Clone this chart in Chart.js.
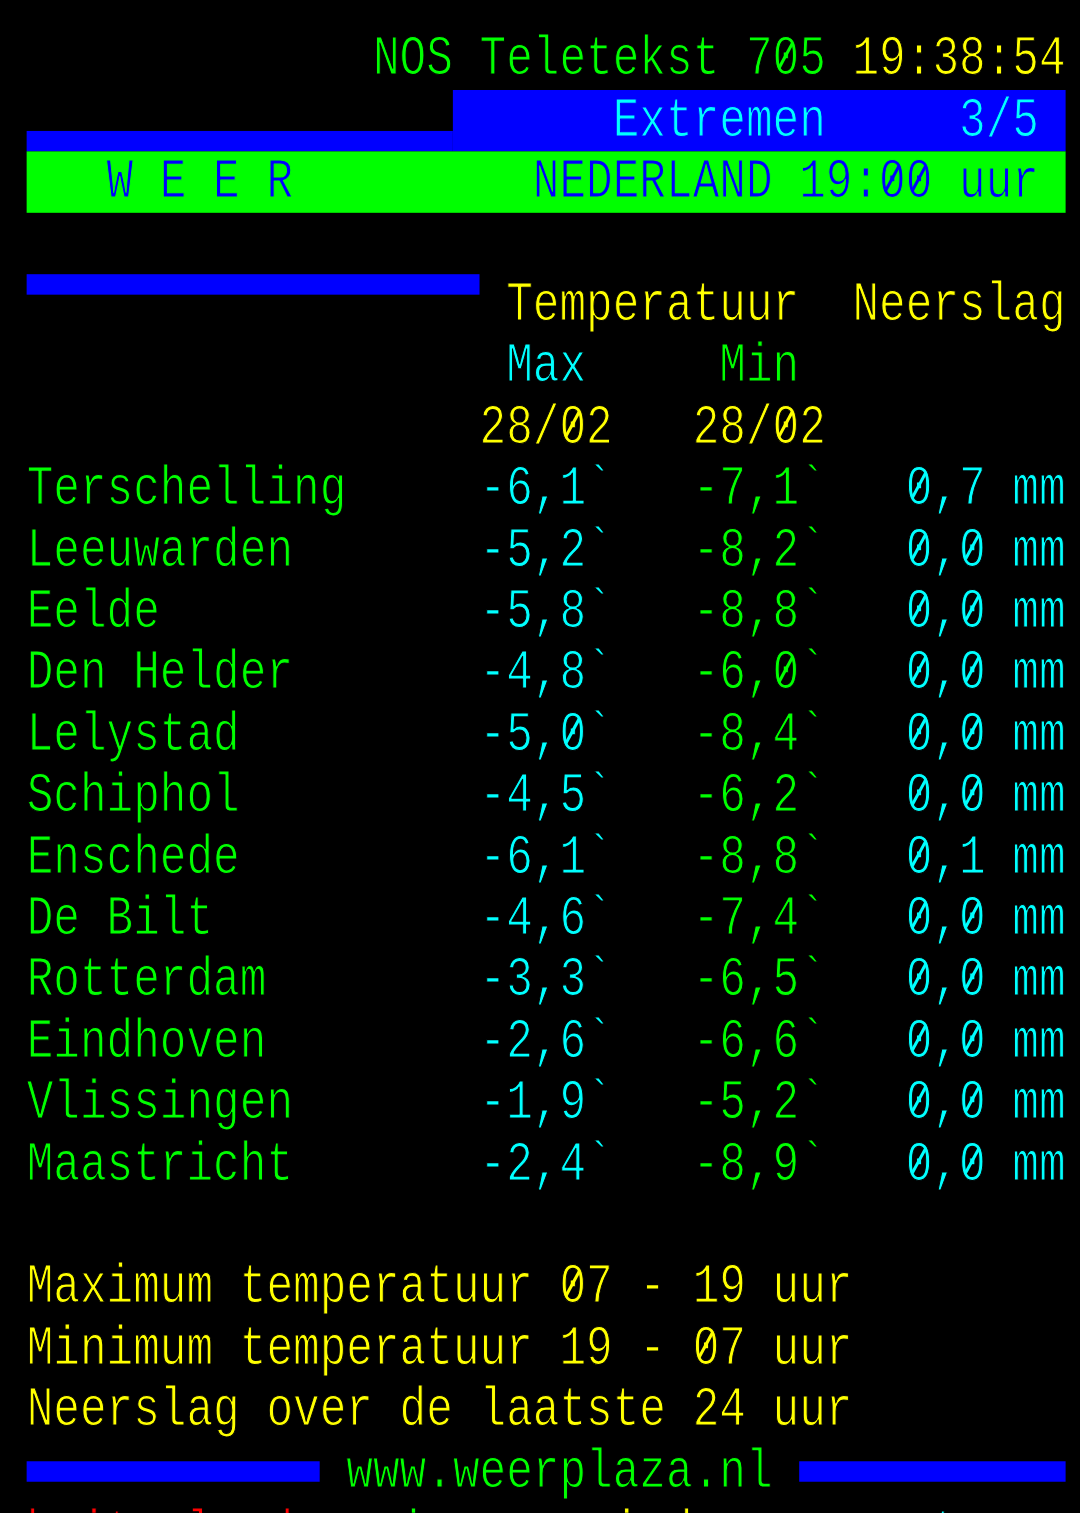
<!DOCTYPE html>
<html>
<head>
<meta charset="utf-8">
<script src="https://cdn.jsdelivr.net/npm/chart.js@4.4.1/dist/chart.umd.min.js"></script>
<style>
html,body{margin:0;padding:0;background:#000;overflow:hidden}
#wrap{position:relative;width:1080px;height:1513px}
</style>
</head>
<body>
<div id="wrap"><canvas id="c"></canvas></div>
<script>
// ---- data ----
const stations = ['Terschelling','Leeuwarden','Eelde','Den Helder','Lelystad','Schiphol',
                  'Enschede','De Bilt','Rotterdam','Eindhoven','Vlissingen','Maastricht'];
const maxTemp = [-6.1,-5.2,-5.8,-4.8,-5.0,-4.5,-6.1,-4.6,-3.3,-2.6,-1.9,-2.4];
const minTemp = [-7.1,-8.2,-8.8,-6.0,-8.4,-6.2,-8.8,-7.4,-6.5,-6.6,-5.2,-8.9];
const precip  = [0.7,0.0,0.0,0.0,0.0,0.0,0.1,0.0,0.0,0.0,0.0,0.0];
const maxDate = '28/02';
const minDate = '28/02';
const pageTitle = 'NOS Teletekst 705';
const pageClock = '19:38:54';
const subTitle = 'Extremen';
const subPage = '3/5';
const section = 'W E E R';
const region = 'NEDERLAND 19:00 uur';
const notes = ['Maximum temperatuur 07 - 19 uur','Minimum temperatuur 19 - 07 uur','Neerslag over de laatste 24 uur'];
const website = 'www.weerplaza.nl';
const fastext = ['buitenland','regio','wind','vorst'];

// ---- teletext layout (grid columns / rows) ----
const C = {green:'#00ff00',yellow:'#ffff00',cyan:'#00ffff',blue:'#0000ff',red:'#ff0000',black:'#000000'};
const COL_NAME=1, COL_MAX=18, COL_MIN=26, COL_PRE=34;
const FIRST_ROW=7;
const FONT_PX=56;
const THIN=1.2;
const FONT='"Liberation Mono", "DejaVu Sans Mono", monospace';

const fmtT = v => v.toFixed(1).replace('.',',') + '`';
const fmtP = v => v.toFixed(1).replace('.',',') + ' mm';

// [row, col, text, colour, background]
const textRows = [
  [0,14,pageTitle,C.green,C.black],[0,32,pageClock,C.yellow,C.black],
  [1,23,subTitle,C.cyan,C.blue],[1,36,subPage,C.cyan,C.blue],
  [2,4,section,C.blue,C.green],[2,20,region,C.blue,C.green],
  [4,19,'Temperatuur',C.yellow,C.black],[4,32,'Neerslag',C.yellow,C.black],
  [5,19,'Max',C.cyan,C.black],[5,27,'Min',C.green,C.black],
  [6,18,maxDate,C.yellow,C.black],[6,26,minDate,C.yellow,C.black],
  [20,1,notes[0],C.yellow,C.black],[21,1,notes[1],C.yellow,C.black],[22,1,notes[2],C.yellow,C.black],
  [23,13,website,C.green,C.black],
  [24,1,fastext[0],C.red,C.black],[24,12,fastext[1],C.green,C.black],[24,22,fastext[2],C.yellow,C.black],[24,31,fastext[3],C.cyan,C.black]
];
// [row, colStart, colEnd(excl), part, colour]
const blocks = [
  [1,1,17,'bot',C.blue],[1,17,40,'full',C.blue],
  [2,1,40,'full',C.green],
  [4,1,18,'top',C.blue],
  [23,1,12,'mid',C.blue],[23,30,40,'mid',C.blue]
];

function grid(chart){
  const xs=chart.scales.x, ys=chart.scales.y;
  const cw = xs.getPixelForValue(1)-xs.getPixelForValue(0);
  const rh = ys.getPixelForValue(1)-ys.getPixelForValue(0);
  const rowCenter = r => ys.getPixelForValue(r-FIRST_ROW);
  const colLeft = c => xs.getPixelForValue(c);
  return {cw,rh,rowCenter,colLeft};
}

function put(chart, text, col, cy, color, bg){
  const ctx=chart.ctx; const g=grid(chart);
  ctx.save();
  ctx.font = FONT_PX+'px '+FONT;
  ctx.textAlign='center'; ctx.textBaseline='alphabetic';
  ctx.lineJoin='round';
  const sx = g.cw/ctx.measureText('0').width;
  for(let i=0;i<text.length;i++){
    const ch=text[i]; if(ch===' ') continue;
    const cx=g.colLeft(col+i)+g.cw/2;
    ctx.save(); ctx.translate(cx, cy+g.rh*0.245); ctx.scale(sx,1);
    ctx.fillStyle=color; ctx.fillText(ch,0,0);
    ctx.strokeStyle=bg||C.black; ctx.lineWidth=THIN; ctx.strokeText(ch,0,0);
    if(ch==='0'){
      ctx.strokeStyle=color; ctx.lineWidth=3.6; ctx.lineCap='butt';
      ctx.beginPath(); ctx.moveTo(-0.15*FONT_PX,-0.12*FONT_PX); ctx.lineTo(0.15*FONT_PX,-0.56*FONT_PX); ctx.stroke();
    }
    ctx.restore();
  }
  ctx.restore();
}

const teletext = {
  id:'teletext',
  beforeDraw(chart){
    const ctx=chart.ctx, g=grid(chart);
    ctx.save();
    ctx.fillStyle=C.black; ctx.fillRect(0,0,chart.width,chart.height);
    blocks.forEach(([r,c0,c1,part,col])=>{
      const top=g.rowCenter(r)-g.rh/2;
      let y0=top, h=g.rh;
      if(part==='top'){h=g.rh/3;}
      else if(part==='mid'){y0=top+g.rh/3;h=g.rh/3;}
      else if(part==='bot'){y0=top+2*g.rh/3;h=g.rh/3;}
      ctx.fillStyle=col;
      ctx.fillRect(g.colLeft(c0),y0,g.colLeft(c1)-g.colLeft(c0),h);
    });
    ctx.restore();
  },
  afterDatasetsDraw(chart){
    const g=grid(chart);
    textRows.forEach(([r,c,t,col,bg])=>put(chart,t,c,g.rowCenter(r),col,bg));
    const ys=chart.scales.y;
    ys.getLabels().forEach((name,i)=>put(chart,name,COL_NAME,ys.getPixelForValue(i),C.green,C.black));
    chart.data.datasets.forEach((ds,di)=>{
      const meta=chart.getDatasetMeta(di);
      meta.data.forEach((el,i)=>{
        const col=Math.round(chart.scales.x.getValueForPixel(el.x));
        put(chart, ds.fmt(ds.values[i]), col, el.y, ds.textColor, C.black);
      });
    });
  }
};

new Chart(document.getElementById('c'),{
  type:'scatter',
  data:{
    datasets:[
      {label:'Max',values:maxTemp,fmt:fmtT,textColor:C.cyan,data:stations.map(s=>({x:COL_MAX,y:s})),pointRadius:0},
      {label:'Min',values:minTemp,fmt:fmtT,textColor:C.green,data:stations.map(s=>({x:COL_MIN,y:s})),pointRadius:0},
      {label:'Neerslag',values:precip,fmt:fmtP,textColor:C.cyan,data:stations.map(s=>({x:COL_PRE,y:s})),pointRadius:0}
    ]
  },
  options:{
    responsive:true, maintainAspectRatio:false, animation:false,
    devicePixelRatio:1,
    layout:{padding:{left:0,right:1080-1065.6,top:458.4,bottom:1513-1195.2}},
    plugins:{legend:{display:false},tooltip:{enabled:false},title:{display:false}},
    events:[],
    scales:{
      x:{type:'linear',min:0,max:40,display:false},
      y:{type:'category',labels:stations,offset:true,display:false}
    }
  },
  plugins:[teletext]
});
</script>
</body>
</html>
